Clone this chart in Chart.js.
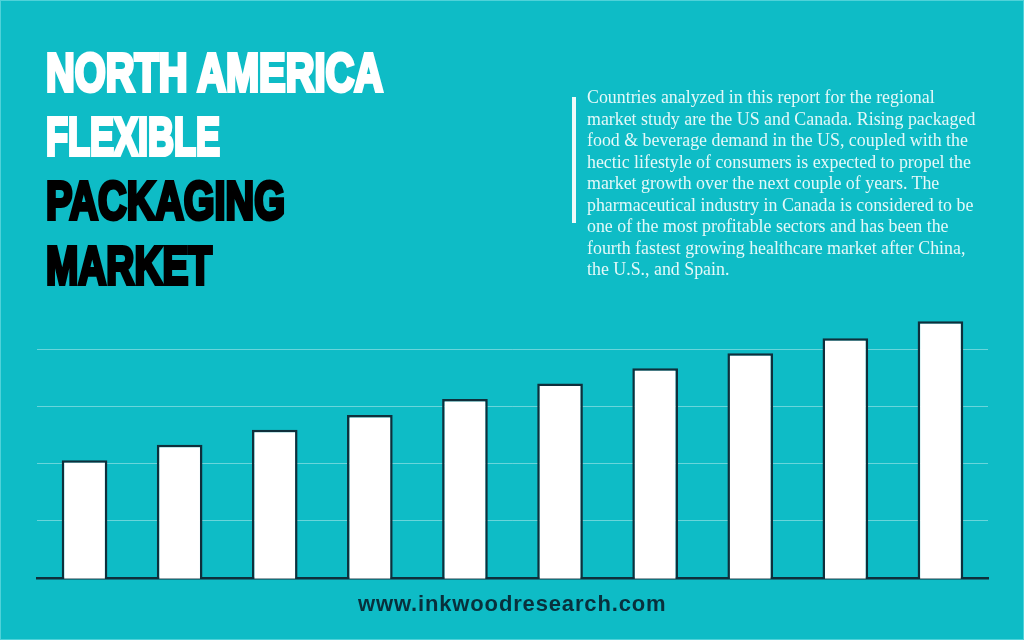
<!DOCTYPE html>
<html>
<head>
<meta charset="utf-8">
<title>North America Flexible Packaging Market</title>
<script src="https://cdn.jsdelivr.net/npm/chart.js@4"></script>
<style>
  html,body{margin:0;padding:0;}
  body{width:1024px;height:640px;overflow:hidden;position:relative;background:#0ebcc6;}
  #frame{position:absolute;inset:0;border:1px solid #4fd2d9;box-sizing:border-box;}
  #wrap{position:absolute;left:0;top:0;width:1024px;height:640px;}
  #title{position:absolute;left:0;top:0;}
  #title text{font:bold 54.5px "Liberation Sans",sans-serif;stroke-width:4px;stroke-linejoin:miter;stroke-miterlimit:4;}
  .w{fill:#fff;stroke:#fff;} .k{fill:#000;stroke:#000;}
  #rule{position:absolute;left:572px;top:97px;width:4px;height:126px;background:#eefafa;}
  #para{position:absolute;left:587px;top:87px;margin:0;width:420px;color:#e4f9f9;
        font:17.87px/21.5px "Liberation Serif",serif;white-space:pre;}
  #site{position:absolute;left:358px;top:590px;margin:0;color:#08303c;white-space:nowrap;
        font:bold 22px/28px "Liberation Sans",sans-serif;letter-spacing:.85px;}
</style>
</head>
<body>
<div id="frame"></div>
<div id="wrap"><canvas id="chart" width="1024" height="640"></canvas></div>
<svg id="title" width="560" height="310">
  <text class="w" x="46" y="91" textLength="337" lengthAdjust="spacingAndGlyphs">NORTH AMERICA</text>
  <text class="w" x="46" y="155" textLength="174" lengthAdjust="spacingAndGlyphs">FLEXIBLE</text>
  <text class="k" x="46" y="219" textLength="239" lengthAdjust="spacingAndGlyphs">PACKAGING</text>
  <text class="k" x="46" y="284" textLength="166" lengthAdjust="spacingAndGlyphs">MARKET</text>
</svg>
<div id="rule"></div>
<p id="para">Countries analyzed in this report for the regional
market study are the US and Canada. Rising packaged
food &amp; beverage demand in the US, coupled with the
hectic lifestyle of consumers is expected to propel the
market growth over the next couple of years. The
pharmaceutical industry in Canada is considered to be
one of the most profitable sectors and has been the
fourth fastest growing healthcare market after China,
the U.S., and Spain.</p>
<p id="site">www.inkwoodresearch.com</p>
<script>
/* bars have no value labels in the source, heights read in gridline steps */
const CATEGORIES = ["1","2","3","4","5","6","7","8","9","10"];
const VALUES = [2.06, 2.33, 2.59, 2.85, 3.13, 3.40, 3.665, 3.93, 4.19, 4.49];
const Y_MAX = 4.5, Y_STEP = 1;
const INK = "#0f2f3b";

new Chart(document.getElementById("chart"), {
  type: "bar",
  data: { labels: CATEGORIES, datasets: [{
    data: VALUES, backgroundColor: "#fff", borderColor: INK, borderWidth: 2.5,
    borderSkipped: "bottom", base: -0.012, categoryPercentage: 1, barPercentage: 0.48, clip: false
  }] },
  options: {
    responsive: false, animation: false,
    layout: { padding: { left: 37, right: 36, top: 320.6, bottom: 54 } },
    plugins: { legend: { display: false }, tooltip: { enabled: false } },
    scales: {
      x: { grid: { display: false }, ticks: { display: false }, border: { color: INK, width: 2.5 } },
      y: { min: 0, max: Y_MAX, ticks: { display: false, stepSize: Y_STEP },
           afterBuildTicks: s => { s.ticks = s.ticks.filter(t => t.value <= 4); },
           grid: { color: "rgba(255,255,255,.38)", lineWidth: 1, drawTicks: false }, border: { display: false } }
    }
  }
});
</script>
</body>
</html>
